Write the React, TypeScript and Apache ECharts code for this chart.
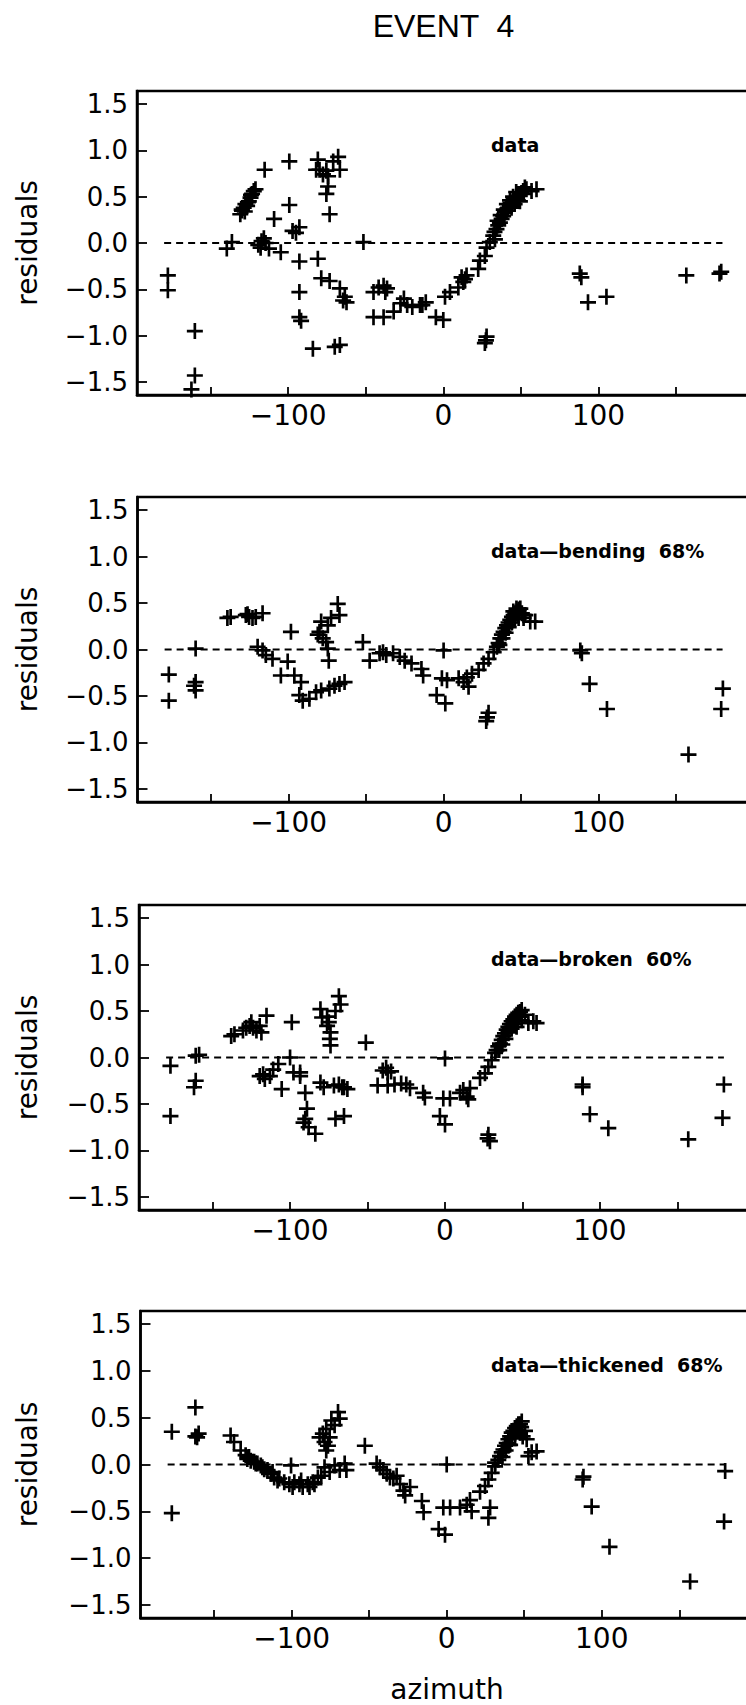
import React, { useEffect, useRef } from "react";
import * as echarts from "echarts";

// ---------- data ----------
const titleText = "EVENT  4";
const xAxisTitle = "azimuth";
const yAxisTitle = "residuals";
const panelLabels = ["data", "data\u2014bending  68%", "data\u2014broken  60%", "data\u2014thickened  68%"];

const xTicks = [-150, -100, -50, 0, 50, 100, 150];
const xTickLabels = [-100, 0, 100];
const yTicks = [-1.5, -1.0, -0.5, 0, 0.5, 1.0, 1.5];
const zeroLineExtent = [-180, 180];

const residualsData: number[][] = [
  [-177.6, -0.35], [-177.6, -0.51], [-160.2, -0.95], [-160.2, -1.43], [-162.4, -1.58],
  [-139.6, -0.06], [-136.3, 0.01],
  [-130.9, 0.31], [-129.8, 0.35], [-128.7, 0.38], [-127.6, 0.42], [-126.5, 0.4], [-125.4, 0.45], [-124.3, 0.49], [-123.3, 0.53], [-122.2, 0.56], [-121.1, 0.58],
  [-130, 0.36], [-128, 0.34], [-126, 0.44], [-124, 0.52],
  [-115.2, 0.79], [-99.3, 0.88],
  [-119.3, -0.02], [-117.8, -0.05], [-117.2, 0.02], [-115.7, 0.05], [-114.6, 0.0], [-112.4, -0.06],
  [-109.1, 0.26], [-99.3, 0.41], [-104.8, -0.1], [-97.2, 0.13], [-95, 0.11], [-92.8, 0.17],
  [-92.8, -0.2], [-80.9, -0.17], [-92.8, -0.53], [-92.8, -0.8], [-91.7, -0.84], [-84.1, -1.14], [-70, -1.12], [-66.7, -1.1],
  [-78.7, -0.38], [-73.3, -0.41], [-66.7, -0.49], [-63.5, -0.58], [-64.6, -0.62], [-62.4, -0.64],
  [-80.9, 0.9], [-82, 0.79], [-79.8, 0.79], [-77.6, 0.74], [-75.4, 0.78], [-74.3, 0.72], [-74.3, 0.61], [-75.4, 0.53], [-73.3, 0.31], [-71, 0.88], [-67.8, 0.93], [-66.7, 0.79],
  [-51.5, 0.01],
  [-45, -0.53], [-41.7, -0.48], [-38.5, -0.46], [-36.3, -0.49], [-37.4, -0.53], [-45, -0.8], [-38.5, -0.8],
  [-32, -0.74], [-27.6, -0.65], [-25.4, -0.6], [-23.3, -0.67], [-20, -0.69], [-15, -0.67], [-13.5, -0.67], [-11.3, -0.64], [-4.8, -0.8], [0, -0.83],
  [1.1, -0.58], [4.3, -0.53], [9.7, -0.48], [11.8, -0.37], [12.9, -0.42], [14, -0.39], [15, -0.35],
  [22.5, -0.28], [23.6, -0.19], [26.8, -0.14], [27.9, -0.05],
  [30, 0.01], [32.2, 0.08], [33.3, 0.04], [34.3, 0.15], [35.4, 0.19], [36.5, 0.22], [37.6, 0.26], [38.6, 0.29], [39.7, 0.33], [40.8, 0.35], [41.8, 0.38], [42.9, 0.4], [44, 0.43], [45, 0.45], [46.1, 0.47], [47.2, 0.49], [48.3, 0.51], [49.4, 0.53], [49.4, 0.45], [50.4, 0.54], [51.5, 0.56], [51.9, 0.53], [52.6, 0.6], [53.6, 0.58], [56.9, 0.56], [60.1, 0.58],
  [33, 0.12], [35, 0.24], [37, 0.3], [39, 0.36], [41, 0.42], [43, 0.46], [45, 0.5], [47, 0.55], [44, 0.38], [46, 0.42], [48, 0.46],
  [27.9, -1.01], [27.5, -1.05], [26.8, -1.08],
  [88, -0.33], [89, -0.37], [93.3, -0.64], [105.2, -0.58], [156.7, -0.35], [178.1, -0.33], [179.2, -0.31],
];

const bendingData: number[][] = [
  [-177.3, -0.27], [-177.3, -0.55], [-160, 0.01], [-160, -0.35], [-161, -0.39], [-160, -0.44],
  [-139.5, 0.34], [-137.4, 0.35], [-127.6, 0.37], [-126.5, 0.38], [-125.5, 0.35], [-123.3, 0.34], [-121.2, 0.35], [-116.8, 0.39],
  [-120, 0.03], [-116.8, -0.01], [-114.7, -0.06], [-110.4, -0.1], [-100.6, -0.13], [-98.5, 0.19],
  [-105, -0.28], [-96.3, -0.28], [-92, -0.35],
  [-93.1, -0.49], [-90.9, -0.55], [-86.6, -0.53], [-82.3, -0.46], [-79, -0.44], [-73.7, -0.42], [-70.4, -0.39], [-67.2, -0.37], [-63.9, -0.35],
  [-81.2, 0.16], [-80.1, 0.19], [-79, 0.3], [-78, 0.12], [-75.8, 0.08], [-74.7, 0.26], [-74.7, 0.01], [-74.1, -0.12], [-72.6, 0.34], [-68.3, 0.49], [-67.2, 0.37],
  [-52.1, 0.08],
  [-47.7, -0.12], [-41.3, -0.04], [-39.1, -0.03], [-37, -0.06], [-32.6, -0.04], [-28.3, -0.08], [-25.1, -0.12], [-20.7, -0.15],
  [-14.3, -0.21], [-13.2, -0.28], [-4.5, -0.49], [1.1, -0.58],
  [0, -0.01], [-1.1, -0.31], [2.2, -0.33],
  [9.7, -0.31], [12.9, -0.35], [15, -0.3], [16.1, -0.4], [18.3, -0.26],
  [22.6, -0.22], [25.8, -0.15], [29, -0.1],
  [32.3, -0.03], [34.4, 0.03], [35.5, 0.07], [36.6, 0.12], [37.6, 0.16], [38.7, 0.19], [39.8, 0.23], [40.9, 0.26], [41.9, 0.29], [43, 0.32], [44.1, 0.35], [45.2, 0.37], [46.2, 0.39], [47.3, 0.41], [48.4, 0.43], [48.4, 0.34], [49.5, 0.44], [50.5, 0.39], [51.6, 0.34], [52.7, 0.37], [55.9, 0.3], [59.1, 0.3],
  [36, 0.05], [38, 0.12], [40, 0.18], [42, 0.24], [44, 0.29], [46, 0.33], [48, 0.38], [45, 0.41], [47, 0.44],
  [28, -0.73], [29, -0.68], [27.5, -0.77],
  [88.2, -0.01], [89.2, -0.04], [94.2, -0.37], [105.4, -0.64], [158, -1.13], [180.2, -0.42], [179.1, -0.64],
];

const brokenData: number[][] = [
  [-177.2, -0.09], [-177.2, -0.63], [-160.9, 0.02], [-158.7, 0.03], [-160.9, -0.25], [-162, -0.32],
  [-138, 0.23], [-135.9, 0.25], [-130.4, 0.29], [-128.3, 0.32], [-126.1, 0.34], [-125, 0.38], [-123.9, 0.32], [-121.7, 0.29], [-119.6, 0.34], [-118.5, 0.27], [-115.2, 0.45],
  [-98.9, 0.38],
  [-119.6, -0.2], [-117.4, -0.18], [-116.3, -0.23], [-113, -0.2], [-110.9, -0.13], [-107.6, -0.07], [-105.4, -0.34], [-100, 0], [-97.8, -0.16], [-93.5, -0.16], [-93.5, -0.2],
  [-90.2, -0.38], [-89.1, -0.55], [-90.2, -0.66], [-91.3, -0.7], [-88, -0.75], [-83.7, -0.82],
  [-80.4, -0.27], [-78.3, -0.32], [-71.7, -0.3], [-68.5, -0.29], [-66.3, -0.32], [-65.2, -0.32], [-63, -0.34],
  [-70.7, -0.66], [-65.2, -0.63],
  [-80.4, 0.52], [-79.3, 0.43], [-76.1, 0.44], [-75, 0.38], [-76.1, 0.34], [-73.9, 0.27], [-74.3, 0.2], [-73.9, 0.13], [-68.5, 0.66], [-67.4, 0.57], [-70.7, 0.5],
  [-51.1, 0.16],
  [-43.5, -0.3], [-40.2, -0.14], [-38, -0.11], [-37, -0.16], [-34.8, -0.15], [-37, -0.3], [-32.6, -0.29], [-28.3, -0.28], [-25, -0.29], [-22.6, -0.33],
  [-14.1, -0.38], [-13, -0.43], [-3.3, -0.63], [0, -0.72],
  [0, -0.01], [-1.1, -0.44], [3.2, -0.44],
  [9.7, -0.38], [11.8, -0.35], [14, -0.42], [15, -0.45], [16.1, -0.33],
  [22.6, -0.22], [25.8, -0.17], [28, -0.1],
  [30.1, -0.03], [32.3, 0.05], [33.3, 0.08], [34.4, 0.12], [35.5, 0.15], [36.6, 0.19], [37.6, 0.23], [38.7, 0.26], [39.8, 0.3], [40.9, 0.33], [41.9, 0.36], [43, 0.39], [44.1, 0.41], [45.2, 0.44], [46.2, 0.46], [46.2, 0.33], [47.3, 0.48], [48.4, 0.49], [49.5, 0.51], [49.5, 0.4], [51.6, 0.46], [53.8, 0.37], [57, 0.39], [59.1, 0.37],
  [35, 0.08], [37, 0.14], [39, 0.2], [41, 0.27], [43, 0.31], [45, 0.36], [47, 0.4], [48, 0.44],
  [28, -0.83], [29, -0.9], [27.5, -0.87],
  [88.8, -0.29], [88.8, -0.32], [93.5, -0.61], [105.4, -0.76], [157, -0.88], [180, -0.29], [179.1, -0.65],
];

const thickenedData: number[][] = [
  [-177.3, 0.35], [-177.3, -0.52], [-162.1, 0.61], [-162.1, 0.3], [-160, 0.33], [-161, 0.29],
  [-139.4, 0.31], [-137.2, 0.24], [-132.9, 0.15], [-129.7, 0.1], [-128.6, 0.06], [-127.5, 0.08], [-126.4, 0.04], [-124.2, 0.03], [-123.2, 0.01], [-122.1, 0.01], [-119.9, -0.01], [-118.9, -0.03], [-117.7, -0.05], [-115.6, -0.06], [-113.4, -0.1], [-112.3, -0.08], [-111.3, -0.14], [-109.1, -0.17], [-108, -0.15], [-104.8, -0.19], [-101.5, -0.21], [-100.4, -0.01], [-99.4, -0.24], [-98.3, -0.19], [-95, -0.21], [-93.9, -0.17], [-92.9, -0.24], [-89.6, -0.21], [-88.5, -0.24], [-86.4, -0.19], [-85.3, -0.21], [-83.1, -0.14], [-80.9, -0.12],
  [-78.8, -0.03], [-75.5, -0.08], [-72.3, -0.01], [-69, -0.06], [-65.8, 0.01], [-64.7, -0.06],
  [-82, 0.29], [-79.9, 0.33], [-77.7, 0.38], [-75.5, 0.29], [-76.6, 0.2], [-77.7, 0.15], [-78.8, 0.24], [-70.1, 0.56], [-69, 0.49], [-72.3, 0.42], [-74.4, 0.47],
  [-52.8, 0.2],
  [-45.2, 0.01], [-43.1, -0.03], [-40.9, -0.06], [-38.7, -0.1], [-36.6, -0.14], [-34.4, -0.15], [-32.3, -0.12], [-30.1, -0.21], [-27.9, -0.28], [-26.8, -0.33], [-23.6, -0.24],
  [-16, -0.39], [-14.9, -0.51], [-5.2, -0.69], [-1.1, -0.75],
  [0, 0], [-2.2, -0.46], [2.2, -0.46], [8.6, -0.46],
  [12.9, -0.43], [15, -0.38], [16.1, -0.5],
  [21.5, -0.29], [24.7, -0.23], [26.9, -0.16],
  [28, -0.46], [26.9, -0.57],
  [29, -0.09], [31.2, -0.02], [31.2, 0.02], [33.3, 0.05], [34.4, 0.09], [35.5, 0.13], [36.6, 0.16], [37.6, 0.2], [38.7, 0.23], [39.8, 0.27], [40.9, 0.3], [40.9, 0.21], [41.9, 0.34], [43, 0.36], [44.1, 0.39], [44.1, 0.29], [45.2, 0.41], [46.2, 0.43], [47.3, 0.43], [47.3, 0.34], [48.4, 0.46], [50.5, 0.36], [51.6, 0.27], [52.7, 0.09], [54.8, 0.13], [58, 0.14],
  [36, 0.08], [38, 0.15], [40, 0.21], [42, 0.28], [44, 0.33], [46, 0.37], [48, 0.4], [49, 0.3],
  [88.2, -0.13], [87.7, -0.16], [93.5, -0.45], [105, -0.88], [157, -1.25], [179.6, -0.07], [178.9, -0.61],
];

const panelData = [residualsData, bendingData, brokenData, thickenedData];

// ---------- layout / style ----------
const W = 746;
const H = 1705;
const panels = [
  { left: 137, top: 91, height: 304, zeroX: 443.3 },
  { left: 137.5, top: 497, height: 305, zeroX: 443.6 },
  { left: 139, top: 905, height: 305, zeroX: 445 },
  { left: 140.5, top: 1311, height: 307, zeroX: 446.7 },
];
const X_MIN = -197.5;
const X_MAX = 197.5;
const Y_MIN = -1.64;
const Y_MAX = 1.64;

const PLUS = "path://M6.25,0H8.75V6.25H15V8.75H8.75V15H6.25V8.75H0V6.25H6.25Z";
const FONT = "DejaVu Sans";

const fmtX = (v: number) => (v < 0 ? "\u2212" + Math.abs(v) : String(v));
const fmtY = (v: number) => (v < 0 ? "\u2212" : "") + Math.abs(v).toFixed(1);

function buildOption() {
  const grid = panels.map((p) => {
    const pxPerUnit = (p.zeroX - p.left) / -X_MIN;
    const rightEdge = p.zeroX + X_MAX * pxPerUnit;
    return {
      left: p.left,
      top: p.top,
      height: p.height,
      right: W - rightEdge,
      show: true,
      borderColor: "#000",
      borderWidth: 2.5,
      backgroundColor: "transparent",
      containLabel: false,
      outerBoundsMode: "none",
    };
  });

  const xAxis = panels.map((_, i) => ({
    gridIndex: i,
    type: "value",
    min: X_MIN,
    max: X_MAX,
    splitLine: { show: false },
    axisLine: { show: true, onZero: false, lineStyle: { color: "#000", width: 2.5 } },
    axisTick: {
      show: true,
      inside: true,
      length: 8,
      customValues: xTicks,
      lineStyle: { color: "#000", width: 1.8 },
    },
    axisLabel: {
      show: true,
      customValues: xTickLabels,
      formatter: fmtX,
      color: "#000",
      fontFamily: FONT,
      fontSize: 28,
      margin: 6,
    },
  }));

  const yAxis = panels.map((_, i) => ({
    gridIndex: i,
    type: "value",
    min: Y_MIN,
    max: Y_MAX,
    splitLine: { show: false },
    axisLine: { show: true, onZero: false, lineStyle: { color: "#000", width: 2.5 } },
    axisTick: {
      show: true,
      inside: true,
      length: 10,
      customValues: yTicks,
      lineStyle: { color: "#000", width: 1.8 },
    },
    axisLabel: {
      show: true,
      customValues: yTicks,
      formatter: fmtY,
      color: "#000",
      fontFamily: FONT,
      fontSize: 26,
      margin: 9,
    },
  }));

  const series: any[] = [];
  panelData.forEach((d, i) => {
    series.push({
      type: "line",
      xAxisIndex: i,
      yAxisIndex: i,
      data: zeroLineExtent.map((x) => [x, 0]),
      symbol: "none",
      silent: true,
      lineStyle: { color: "#000", width: 2, type: [7, 5] },
      z: 1,
    });
    series.push({
      type: "scatter",
      xAxisIndex: i,
      yAxisIndex: i,
      data: d,
      symbol: PLUS,
      symbolSize: 16,
      itemStyle: { color: "#000", opacity: 1 },
      z: 3,
    });
  });

  const graphic: any[] = [
    {
      type: "text",
      x: 443.5,
      y: 26,
      style: {
        text: titleText,
        fill: "#000",
        font: "32px 'Liberation Sans'",
        align: "center",
        verticalAlign: "middle",
      },
    },
    {
      type: "text",
      x: 447,
      y: 1689,
      style: {
        text: xAxisTitle,
        fill: "#000",
        font: `28px '${FONT}'`,
        align: "center",
        verticalAlign: "middle",
      },
    },
  ];
  panels.forEach((p, i) => {
    graphic.push({
      type: "text",
      x: 27,
      y: p.top + p.height / 2,
      rotation: Math.PI / 2,
      style: {
        text: yAxisTitle,
        fill: "#000",
        font: `28px '${FONT}'`,
        align: "center",
        verticalAlign: "middle",
      },
    });
    graphic.push({
      type: "text",
      x: 491,
      y: p.top + 44,
      style: {
        text: panelLabels[i],
        fill: "#000",
        font: `bold 19px '${FONT}'`,
        align: "left",
        verticalAlign: "top",
      },
    });
  });

  return {
    animation: false,
    backgroundColor: "#fff",
    grid,
    xAxis,
    yAxis,
    series,
    graphic,
  };
}

export default function App() {
  const ref = useRef<HTMLDivElement>(null);
  useEffect(() => {
    if (!ref.current) return;
    const chart = echarts.init(ref.current, null, { renderer: "svg" });
    chart.setOption(buildOption() as any);
    return () => chart.dispose();
  }, []);
  return (
    <div
      ref={ref}
      style={{ position: "absolute", left: 0, top: 0, width: W, height: H }}
    />
  );
}
